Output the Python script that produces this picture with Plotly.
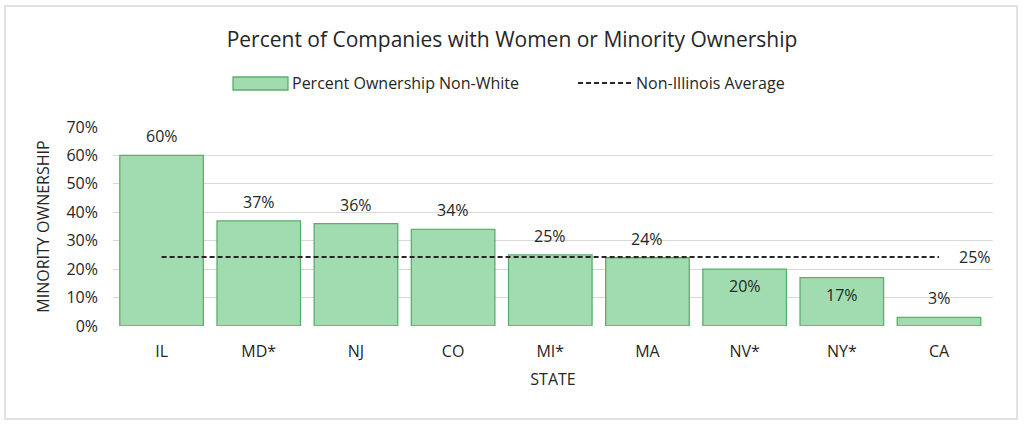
import plotly.graph_objects as go

# ---- data ----
states = ["IL", "MD*", "NJ", "CO", "MI*", "MA", "NV*", "NY*", "CA"]
pct_non_white = [0.60, 0.37, 0.36, 0.34, 0.25, 0.24, 0.20, 0.17, 0.03]
label_pos = ["above", "above", "above", "above", "above", "above", "inside", "inside", "above"]
non_il_avg = 0.243
non_il_avg_label = "25%"
y_ticks = [0, 0.1, 0.2, 0.3, 0.4, 0.5, 0.6, 0.7]

W, H = 1024, 426
PL, PR, PT, PB = 113, 993, 127, 326  # plot area in px
FONT = "Open Sans, sans-serif"
TXT = "#262626"
BAR_FILL = "#a0dcb0"
BAR_LINE = "#5cae6e"
FS = 16


def px2x(px):
    return (px - PL) / (PR - PL)


def py2y(py):
    return (PB - py) / (PB - PT)


fig = go.Figure()
fig.add_trace(go.Bar(
    x=states, y=pct_non_white, name="Percent Ownership Non-White",
    marker=dict(color=BAR_FILL, line=dict(color=BAR_LINE, width=1.3)),
    showlegend=False, hoverinfo="x+y",
))
fig.add_trace(go.Scatter(
    x=states, y=[non_il_avg] * len(states), name="Non-Illinois Average",
    mode="lines", line=dict(color=TXT, width=2, dash="5px,3px"),
    showlegend=False,
))

annotations = []
for s, v, p in zip(states, pct_non_white, label_pos):
    annotations.append(dict(
        x=s, y=v, xref="x", yref="y", text=f"{round(v * 100)}%", showarrow=False,
        yshift=19 if p == "above" else -17,
        font=dict(family=FONT, size=FS, color=TXT),
    ))
annotations.append(dict(
    x=states[-1], y=non_il_avg, xref="x", yref="y", text=non_il_avg_label,
    showarrow=False, xshift=36, font=dict(family=FONT, size=FS, color=TXT),
))
# manual legend
annotations.append(dict(
    x=px2x(290), y=py2y(83), xref="paper", yref="paper", xanchor="left", yanchor="middle",
    text="Percent Ownership Non-White", showarrow=False,
    font=dict(family=FONT, size=FS, color=TXT),
))
annotations.append(dict(
    x=px2x(634), y=py2y(83), xref="paper", yref="paper", xanchor="left", yanchor="middle",
    text="Non-Illinois Average", showarrow=False,
    font=dict(family=FONT, size=FS, color=TXT),
))

shapes = [
    dict(type="rect", xref="paper", yref="paper",
         x0=px2x(5), x1=px2x(1017), y0=py2y(419), y1=py2y(6),
         line=dict(color="#d9d9d9", width=1.5), fillcolor="rgba(0,0,0,0)", layer="below"),
    dict(type="rect", xref="paper", yref="paper",
         x0=px2x(233), x1=px2x(288), y0=py2y(90), y1=py2y(77),
         line=dict(color=BAR_LINE, width=1.3), fillcolor=BAR_FILL),
    dict(type="line", xref="paper", yref="paper",
         x0=px2x(578), x1=px2x(631), y0=py2y(83), y1=py2y(83),
         line=dict(color=TXT, width=2, dash="5px,3px")),
]

fig.update_layout(
    width=W, height=H,
    margin=dict(l=PL, r=W - PR, t=PT, b=H - PB, autoexpand=False),
    paper_bgcolor="white", plot_bgcolor="white",
    title=dict(text="Percent of Companies with Women or Minority Ownership",
               x=0.5, xref="container", xanchor="center",
               y=1 - 40 / H, yref="container", yanchor="middle",
               font=dict(family=FONT, size=21, color=TXT)),
    bargap=0.14,
    annotations=annotations, shapes=shapes,
    font=dict(family=FONT, color=TXT),
)
fig.update_xaxes(
    showgrid=False, showline=False, zeroline=False, ticks="",
    tickfont=dict(family=FONT, size=FS, color=TXT), ticklabelstandoff=14,
    title=dict(text="STATE", font=dict(family=FONT, size=FS, color=TXT), standoff=12),
    automargin=False,
)
fig.update_yaxes(
    range=[0, 0.7], tickvals=y_ticks, tickformat=".0%",
    showgrid=True, gridcolor="#d9d9d9", gridwidth=1, zeroline=False,
    showline=False, ticks="",
    tickfont=dict(family=FONT, size=FS, color=TXT), ticklabelstandoff=14,
    title=dict(text="MINORITY OWNERSHIP", font=dict(family=FONT, size=FS, color=TXT), standoff=12),
    automargin=False,
)

fig.write_html("out.html", config={"displayModeBar": False},
               post_script="document.body.style.margin='0';")
